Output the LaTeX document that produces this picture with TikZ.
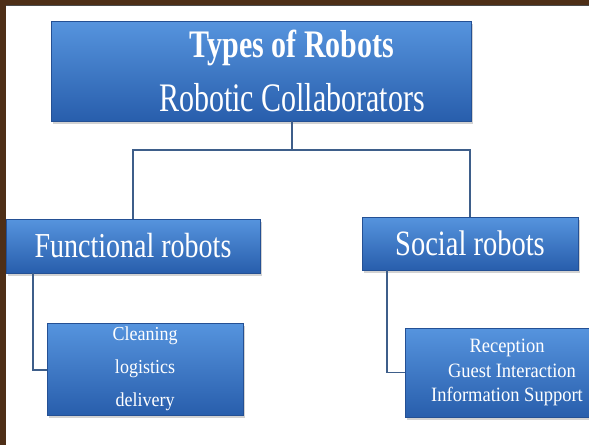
\documentclass[tikz,border=0pt]{standalone}
\usepackage{fontspec}
\setmainfont{Liberation Serif}
\usepackage{graphicx}
\usetikzlibrary{positioning,shadows}

\definecolor{frame}{RGB}{78,47,23}
\definecolor{boxtop}{RGB}{86,148,222}
\definecolor{boxmid}{RGB}{58,120,202}
\definecolor{boxbot}{RGB}{40,94,172}
\definecolor{boxedge}{RGB}{36,80,148}
\definecolor{wire}{RGB}{62,94,138}

% taller, narrower lettering
\newcommand{\tall}[2][1.25]{\scalebox{1}[#1]{#2}}

\begin{document}
\begin{tikzpicture}[
	x=1pt, y=-1pt,
	box/.style={draw=boxedge, line width=0.6pt, top color=boxtop, middle color=boxmid,
		bottom color=boxbot,
		drop shadow={shadow xshift=2pt, shadow yshift=-3pt, opacity=0.35}},
	label text/.style={text=white, align=center, inner sep=0pt},
	link/.style={draw=wire, line width=1.8pt},
	every node/.style={anchor=center}
	]
	\useasboundingbox (0,0) rectangle (589,445);
	\fill[white] (0,0) rectangle (589,445);
	% frame
	\fill[frame] (0,0) rectangle (589,4.5);
	\fill[black!70] (6,4.5) rectangle (589,5.5);
	\fill[frame] (0,0) rectangle (6,445);
	% boxes
	\node[box, minimum width=420pt, minimum height=100pt] (top) at (261,71) {};
	\node[label text, font={\fontsize{30}{54}\selectfont}] (title) at (292,71)
	{\tall[1.3]{\bfseries Types of Robots}\\ \tall[1.35]{Robotic Collaborators}};
	\node[box, minimum width=254pt, minimum height=54pt, label text,
		font={\fontsize{28}{34}\selectfont}] (func) at (133,246)
	{\tall{Functional robots}};
	\node[box, minimum width=216pt, minimum height=53pt, label text,
		font={\fontsize{28.5}{34}\selectfont}] (social) at (470,243.5)
	{\tall{Social robots}};
	\node[box, minimum width=196pt, minimum height=92pt, label text,
		font={\fontsize{18}{33}\selectfont}] (clean) at (145,369)
	{\tall[1.1]{Cleaning}\\ \tall[1.1]{logistics}\\ \tall[1.1]{delivery}};
	\node[box, minimum width=204pt, minimum height=89pt, label text,
		font={\fontsize{18.5}{24.5}\selectfont}] (recep) at (507,372.5)
	{\tall[1.1]{Reception}\\ \tall[1.1]{\hspace{10pt}Guest Interaction}\\ \tall[1.1]{Information Support}};
	% links
	\coordinate (split) at (292,150);
	\coordinate (fbend) at (33,370);
	\coordinate (sbend) at (387,372.5);
	\draw[link] (top.south -| split) -- (split) -| (func.north);
	\draw[link] (split) -| (social.north);
	\draw[link] (func.south -| fbend) -- (fbend) -- (clean.west |- fbend);
	\draw[link] (social.south -| sbend) -- (sbend) -- (recep.west);
\end{tikzpicture}
\end{document}
